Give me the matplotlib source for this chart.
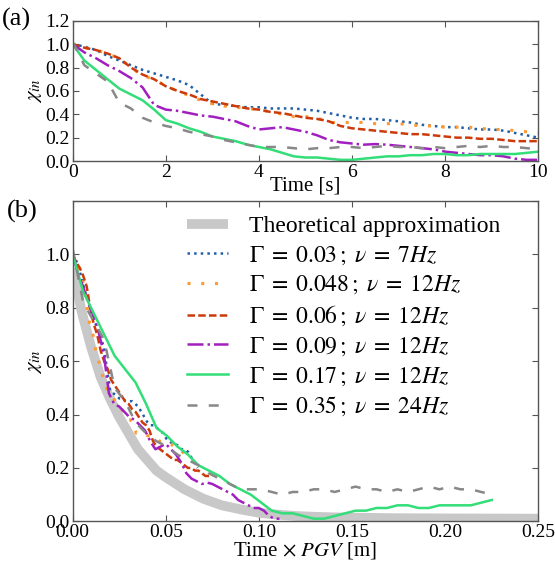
import numpy as np
import matplotlib
matplotlib.use("Agg")
import matplotlib.pyplot as plt

plt.rcParams["font.family"] = ["Liberation Serif", "DejaVu Serif"]
plt.rcParams["mathtext.fontset"] = "stix"

# time axis of panel (a), 0.25 s steps
t = np.arange(0, 10.01, 0.25)

chi_003 = [1.00, 0.98, 0.95, 0.90, 0.86, 0.82, 0.78, 0.75, 0.72, 0.69, 0.65, 0.57, 0.49, 0.48, 0.47,
           0.46, 0.46, 0.45, 0.45, 0.45, 0.44, 0.43, 0.41, 0.39, 0.37, 0.36, 0.36, 0.35, 0.34, 0.33,
           0.31, 0.30, 0.29, 0.29, 0.28, 0.27, 0.27, 0.26, 0.24, 0.22, 0.20]
chi_0048 = [1.00, 0.97, 0.95, 0.92, 0.88, 0.80, 0.73, 0.70, 0.64, 0.60, 0.56, 0.52, 0.49, 0.47, 0.46,
            0.45, 0.44, 0.42, 0.40, 0.38, 0.38, 0.37, 0.33, 0.33, 0.33, 0.33, 0.32, 0.32, 0.32, 0.31,
            0.30, 0.30, 0.29, 0.29, 0.29, 0.28, 0.27, 0.27, 0.26, 0.25, 0.24]
chi_006 = [1.00, 0.97, 0.95, 0.92, 0.88, 0.80, 0.74, 0.70, 0.64, 0.60, 0.57, 0.53, 0.51, 0.49, 0.47,
           0.45, 0.44, 0.42, 0.41, 0.39, 0.37, 0.36, 0.34, 0.30, 0.28, 0.27, 0.26, 0.25, 0.24, 0.23,
           0.23, 0.22, 0.21, 0.20, 0.20, 0.19, 0.19, 0.18, 0.17, 0.17, 0.17]
chi_009 = [1.00, 0.93, 0.88, 0.82, 0.77, 0.71, 0.63, 0.48, 0.44, 0.43, 0.41, 0.39, 0.38, 0.36, 0.34,
           0.30, 0.27, 0.28, 0.29, 0.27, 0.25, 0.22, 0.18, 0.16, 0.15, 0.14, 0.145, 0.14, 0.13, 0.12,
           0.11, 0.10, 0.08, 0.07, 0.06, 0.05, 0.05, 0.04, 0.02, 0.01, 0.01]
chi_017 = [1.00, 0.86, 0.78, 0.70, 0.62, 0.57, 0.52, 0.44, 0.35, 0.32, 0.28, 0.25, 0.21, 0.19, 0.17,
           0.14, 0.12, 0.10, 0.07, 0.04, 0.03, 0.03, 0.02, 0.01, 0.01, 0.02, 0.03, 0.04, 0.04, 0.05,
           0.05, 0.06, 0.06, 0.05, 0.05, 0.06, 0.06, 0.06, 0.06, 0.07, 0.08]
chi_035 = [1.02, 0.82, 0.75, 0.68, 0.50, 0.45, 0.37, 0.33, 0.30, 0.28, 0.25, 0.23, 0.21, 0.18, 0.16,
           0.14, 0.12, 0.12, 0.12, 0.11, 0.10, 0.11, 0.11, 0.12, 0.12, 0.11, 0.12, 0.13, 0.12, 0.12,
           0.11, 0.12, 0.11, 0.12, 0.13, 0.12, 0.13, 0.12, 0.12, 0.11, 0.10]

# peak ground velocity of each run [m/s]
pgv = [0.0067, 0.0062, 0.0075, 0.0111, 0.0225, 0.0225]

labels = [r"$\Gamma\;=\;0.03\,;\;\nu\;=\;7Hz$",
          r"$\Gamma\;=\;0.048\,;\;\nu\;=\;12Hz$",
          r"$\Gamma\;=\;0.06\,;\;\nu\;=\;12Hz$",
          r"$\Gamma\;=\;0.09\,;\;\nu\;=\;12Hz$",
          r"$\Gamma\;=\;0.17\,;\;\nu\;=\;12Hz$",
          r"$\Gamma\;=\;0.35\,;\;\nu\;=\;24Hz$"]
colors = ["#1f5ea8", "#ff9933", "#cc3a0a", "#a21fbf", "#33dd77", "#888888"]
styles = [(0, (1, 1.65)), (0, (1, 3.5)), (0, (3, 1.3)), "-.", "-", (0, (4, 4.5))]
widths = [1.8, 2.2, 1.8, 1.8, 1.8, 1.8]

theo_x = [0, 0.005, 0.01, 0.015, 0.02, 0.025, 0.03, 0.035, 0.04, 0.045, 0.05, 0.06, 0.07, 0.08,
          0.09, 0.10, 0.11, 0.12, 0.13, 0.14, 0.15, 0.17, 0.20, 0.25]
theo_y = [0.95, 0.78, 0.65, 0.54, 0.46, 0.39, 0.33, 0.27, 0.23, 0.19, 0.165, 0.12, 0.085, 0.06,
          0.045, 0.032, 0.025, 0.02, 0.017, 0.015, 0.014, 0.012, 0.011, 0.01]

series = [chi_003, chi_0048, chi_006, chi_009, chi_017, chi_035]

fig = plt.figure(figsize=(5.55, 5.63), dpi=100)
ax1 = fig.add_axes([0.131, 0.714, 0.839, 0.249])
ax2 = fig.add_axes([0.131, 0.074, 0.839, 0.569])

for y, c, ls, w in zip(series, colors, styles, widths):
    ax1.plot(t, y, color=c, linestyle=ls, lw=w)

ax2.plot(theo_x, theo_y, color="#c8c8c8", lw=7, solid_capstyle="butt",
         label="Theoretical approximation")
for y, v, c, ls, w, lab in zip(series, pgv, colors, styles, widths, labels):
    ax2.plot(t * v, y, color=c, linestyle=ls, lw=w, label=lab)

ax1.set_xlim(0, 10)
ax1.set_ylim(0, 1.2)
ax1.set_xticks([0, 2, 4, 6, 8, 10])
ax1.set_yticks([0, 0.2, 0.4, 0.6, 0.8, 1.0, 1.2])
ax1.set_yticklabels(["0.0", "0.2", "0.4", "0.6", "0.8", "1.0", "1.2"])
ax1.set_xlabel("Time [s]", fontsize=15, labelpad=-3)
ax1.set_ylabel(r"$\chi_{in}$", fontsize=15, labelpad=1)

ax2.set_xlim(0, 0.25)
ax2.set_ylim(0, 1.2)
ax2.set_xticks([0, 0.05, 0.10, 0.15, 0.20, 0.25])
ax2.set_xticklabels(["0.00", "0.05", "0.10", "0.15", "0.20", "0.25"])
ax2.set_yticks([0, 0.2, 0.4, 0.6, 0.8, 1.0, 1.2])
ax2.set_yticklabels(["0.0", "0.2", "0.4", "0.6", "0.8", "1.0", ""])
ax2.set_xlabel(r"Time $\times$ $PGV$ [m]", fontsize=15, labelpad=-1)
ax2.set_ylabel(r"$\chi_{in}$", fontsize=15, labelpad=1)

for ax in (ax1, ax2):
    ax.tick_params(direction="in", top=True, right=True, length=4, width=0.8,
                   labelsize=14, pad=2, color="#555555")
    for sp in ax.spines.values():
        sp.set_color("#555555")
        sp.set_linewidth(1.0)

ax2.legend(loc="upper left", bbox_to_anchor=(0.245, 0.955), frameon=False, fontsize=17,
           handlelength=1.75, handletextpad=0.9, labelspacing=0.3,
           borderpad=0, borderaxespad=0)

fig.text(0.003, 0.965, "(a)", fontsize=19, va="center", ha="left")
fig.text(0.012, 0.625, "(b)", fontsize=19, va="center", ha="left")

fig.savefig("out.png", dpi=100)
